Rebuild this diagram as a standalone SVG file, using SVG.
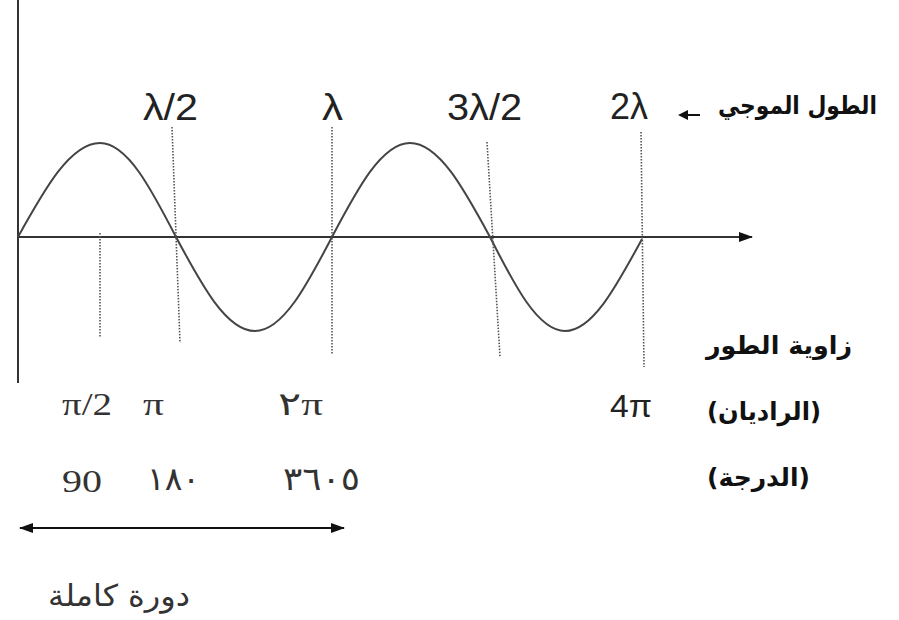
<svg xmlns="http://www.w3.org/2000/svg" width="899" height="620" viewBox="0 0 899 620">
<style>
.axis{stroke:#333;stroke-width:2;fill:none}
.wave{stroke:#444;stroke-width:2;fill:none}
.dot{stroke:#555;stroke-width:1.6;stroke-dasharray:1.5 1.5;fill:none}
.lam{font-family:"Liberation Sans",Arial,sans-serif;font-size:36px;fill:#222}
.ser{font-family:"Liberation Serif","DejaVu Sans",serif;font-size:32px;fill:#333}
.ar{font-family:"DejaVu Sans","Noto Sans",sans-serif;font-weight:bold;font-size:25px;fill:#111}
.arser{font-family:"DejaVu Sans","Liberation Serif",serif;font-size:30px;fill:#333}
</style>
<defs>
<marker id="ah2" markerWidth="14" markerHeight="12" refX="13" refY="6" orient="auto-start-reverse" markerUnits="userSpaceOnUse">
<path d="M0,1 L14,6 L0,11 Z" fill="#111"/>
</marker>
</defs>
<rect width="899" height="620" fill="#fff"/>
<g id="axes">
<line class="axis" x1="18" y1="0" x2="18" y2="383"/>
<line class="axis" x1="18" y1="237" x2="752" y2="237" marker-end="url(#ah2)"/>
</g>
<g id="wave">
<path class="wave" d="M18,237 C44.7,188.9 70.4,143 100,143 C127.4,143 151.2,188.9 176,237 C201.7,285.1 226.5,331 255,331 C282.8,331 306.9,285.1 332,237 C357.4,188.9 381.8,143 410,143 C438.9,143 463.9,188.9 490,237 C514.4,285.1 537.9,331 565,331 C592.8,331 616.9,285.1 642,239"/>
</g>
<g id="guides">
<line class="dot" x1="100" y1="233" x2="100" y2="337"/>
<line class="dot" x1="172" y1="127" x2="180" y2="343"/>
<line class="dot" x1="332" y1="127" x2="332" y2="355"/>
<line class="dot" x1="487" y1="142" x2="500" y2="357"/>
<line class="dot" x1="641" y1="132" x2="644" y2="367"/>
</g>
<g id="wavelength-labels">
<text class="lam" x="143" y="120" textLength="55" lengthAdjust="spacingAndGlyphs">λ/2</text>
<text class="lam" x="322" y="120" textLength="21" lengthAdjust="spacingAndGlyphs">λ</text>
<text class="lam" x="447" y="120" textLength="75" lengthAdjust="spacingAndGlyphs">3λ/2</text>
<text class="lam" x="610" y="119" textLength="38" lengthAdjust="spacingAndGlyphs">2λ</text>
</g>
<g id="wavelength-title">
<text class="ar" x="718" y="114" textLength="159" lengthAdjust="spacingAndGlyphs">الطول الموجي</text>
<line x1="686" y1="115" x2="700" y2="115" stroke="#111" stroke-width="2"/>
<path d="M678,115 L688,110 L688,120 Z" fill="#111"/>
</g>
<g id="phase-title">
<text class="ar" x="706" y="354" textLength="146" lengthAdjust="spacingAndGlyphs">زاوية الطور</text>
<text class="ar" x="707" y="420" textLength="114" lengthAdjust="spacingAndGlyphs">(الراديان)</text>
<text class="ar" x="707" y="486" textLength="103" lengthAdjust="spacingAndGlyphs">(الدرجة)</text>
</g>
<g id="radian-labels">
<text class="ser" x="62" y="415" textLength="50" lengthAdjust="spacingAndGlyphs">π/2</text>
<text class="ser" x="143" y="415" textLength="21" lengthAdjust="spacingAndGlyphs">π</text>
<text class="ser" x="278" y="415" textLength="45" lengthAdjust="spacingAndGlyphs">٢π</text>
<text class="lam" x="610" y="417" style="font-size:32px" textLength="42" lengthAdjust="spacingAndGlyphs">4π</text>
</g>
<g id="degree-labels">
<text class="ser" x="62" y="492" textLength="40" lengthAdjust="spacingAndGlyphs">90</text>
<text class="ser" x="147" y="490" textLength="53" lengthAdjust="spacingAndGlyphs">١٨٠</text>
<text class="ser" x="283" y="490" textLength="77" lengthAdjust="spacingAndGlyphs">٣٦٠٥</text>
</g>
<g id="connectors">
<line x1="20" y1="528" x2="344" y2="528" stroke="#111" stroke-width="2.2" marker-start="url(#ah2)" marker-end="url(#ah2)"/>
</g>
<g id="cycle-label">
<text class="arser" x="48" y="606" textLength="142" lengthAdjust="spacingAndGlyphs">دورة كاملة</text>
</g>
</svg>
